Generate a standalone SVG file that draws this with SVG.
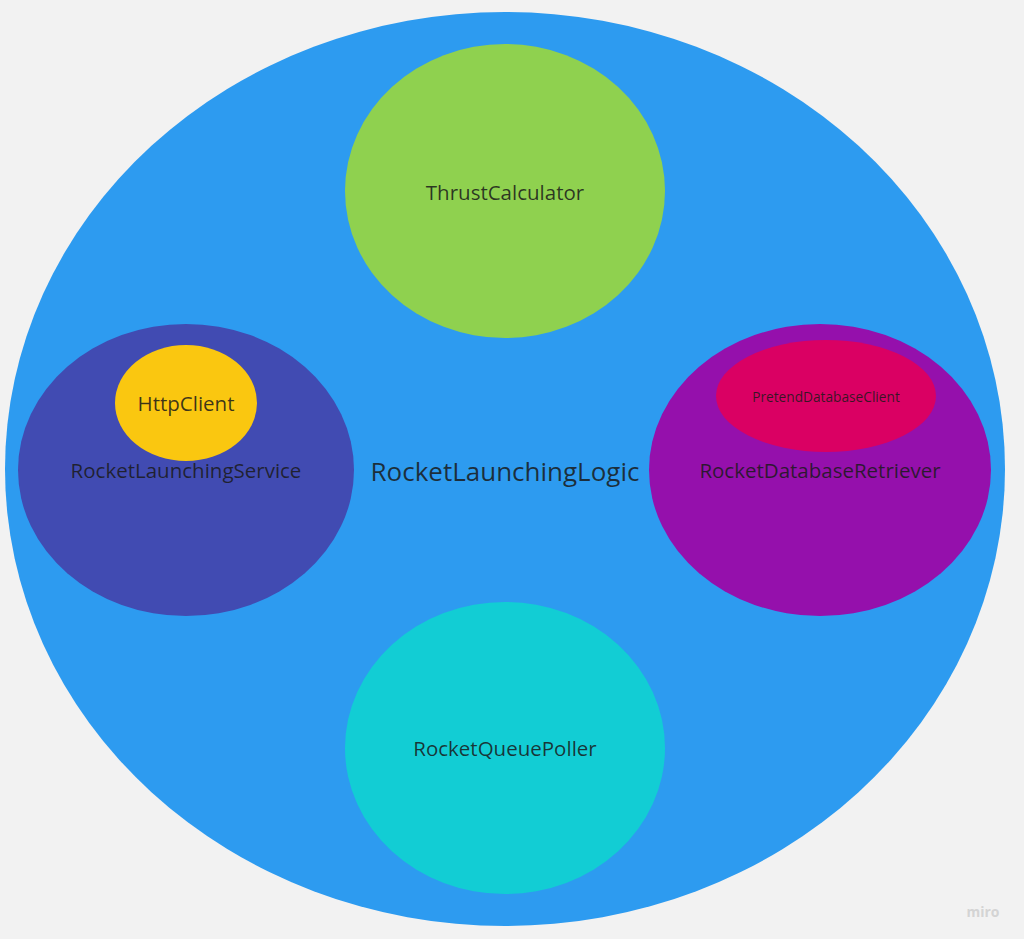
<svg xmlns="http://www.w3.org/2000/svg" width="1024" height="939" viewBox="0 0 1024 939">
<style>
text{font-family:"Open Sans","Noto Sans","Liberation Sans",sans-serif;fill:#1a1a1a;fill-opacity:0.85;text-anchor:middle;dominant-baseline:central}
.m{font-size:20.5px}
</style>
<rect width="1024" height="939" fill="#f2f2f2"/>
<g id="rocket-launching-logic">
<ellipse cx="505" cy="469" rx="500" ry="457" fill="#2d9bf0"/>
<text x="505" y="471" font-size="26">RocketLaunchingLogic</text>
</g>
<g id="thrust-calculator">
<ellipse cx="505" cy="191" rx="160" ry="147" fill="#8fd14f"/>
<text class="m" x="505" y="192">ThrustCalculator</text>
</g>
<g id="rocket-queue-poller">
<ellipse cx="505" cy="748" rx="160" ry="146" fill="#12cdd4"/>
<text class="m" x="505" y="748">RocketQueuePoller</text>
</g>
<g id="rocket-launching-service">
<ellipse cx="186" cy="470" rx="168" ry="146" fill="#414bb2"/>
<text class="m" x="186" y="470">RocketLaunchingService</text>
</g>
<g id="http-client">
<ellipse cx="186" cy="403" rx="71" ry="58" fill="#fac710"/>
<text class="m" x="186" y="403">HttpClient</text>
</g>
<g id="rocket-database-retriever">
<ellipse cx="820" cy="470" rx="171" ry="146" fill="#9510ac"/>
<text class="m" x="820" y="470">RocketDatabaseRetriever</text>
</g>
<g id="pretend-database-client">
<ellipse cx="826" cy="396" rx="110" ry="56" fill="#da0063"/>
<text x="826" y="396" font-size="13.7">PretendDatabaseClient</text>
</g>
<g id="connectors"></g>
<text x="983" y="911" font-size="14" font-weight="bold" style="fill:#d4d4d4;fill-opacity:1">miro</text>
</svg>
